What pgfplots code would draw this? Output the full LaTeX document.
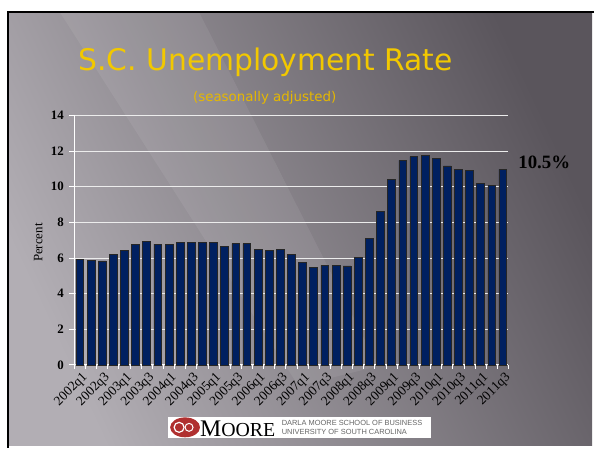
\documentclass[border=0pt]{standalone}
\usepackage{pgfplots}
\pgfplotsset{compat=1.18}
\usepackage{fontspec}
\setmainfont{Liberation Serif}
\newfontfamily\titlefont{DejaVu Sans}
\newfontfamily\logofont{Liberation Sans}
\definecolor{barblue}{RGB}{0,32,96}
\definecolor{bgl}{RGB}{178,174,180}
\definecolor{bgr}{RGB}{90,85,92}
\definecolor{titleyellow}{RGB}{242,200,0}
\definecolor{subyellow}{RGB}{230,184,0}
\definecolor{logored}{RGB}{176,48,48}
\begin{document}
\begin{tikzpicture}[x=1bp,y=1bp]
  % slide frame and background
  \fill[white] (0,0) rectangle (595,448);
  \shade[left color=bgl, right color=bgr, shading angle=115] (8,0) rectangle (595,436);
  \fill[white, opacity=0.07] (60,436) -- (200,436) -- (380,80) -- (300,60) -- cycle;
  \draw[black, line width=2bp] (8,-2) -- (8,436) -- (597,436);

  % title
  \node[font=\titlefont\fontsize{30}{30}\selectfont, text=titleyellow] at (267,385) {S.C. Unemployment Rate};
  \node[font=\titlefont\fontsize{13.5}{13.5}\selectfont, text=subyellow] at (266,350) {(seasonally adjusted)};

  \begin{axis}[
      at={(74.7bp,81.3bp)}, anchor=south west,
      scale only axis,
      width=436.3bp, height=250.7bp,
      xmin=-0.5, xmax=38.5,
      ymin=0, ymax=14,
      ytick={0,2,...,14},
      xtick={0,2,...,38},
      xticklabels={2002q1,2002q3,2003q1,2003q3,2004q1,2004q3,2005q1,2005q3,2006q1,2006q3,
                   2007q1,2007q3,2008q1,2008q3,2009q1,2009q3,2010q1,2010q3,2011q1,2011q3},
      minor xtick={-0.5,0.5,...,38.5},
      major x tick style={draw=none},
      minor x tick style={white, line width=0.8bp},
      minor tick length=4bp,
      y tick style={white, line width=0.8bp},
      major tick length=5bp,
      tick align=outside,
      axis x line*=bottom, axis y line*=left,
      axis line style={white, line width=1bp, -},
      ymajorgrids, grid style={white!85!gray, line width=0.8bp},
      /pgf/number format/assume math mode=true,
      yticklabel style={font=\bfseries\fontsize{13}{13}\selectfont, xshift=-2bp},
      xticklabel style={rotate=45, anchor=east, font=\fontsize{13.5}{13.5}\selectfont, inner sep=1bp, yshift=-8bp, xshift=1bp},
      ylabel={Percent},
      ylabel style={font=\fontsize{13}{13}\selectfont, at={(axis description cs:-0.083,0.49)}, anchor=center},
      clip=false,
    ]
    \addplot[ybar, bar width=0.7, fill=barblue, draw=black!85, line width=0.6bp] coordinates {
      (0,5.94) (1,5.88) (2,5.83) (3,6.22) (4,6.44) (5,6.78) (6,6.94) (7,6.78)
      (8,6.78) (9,6.87) (10,6.89) (11,6.89) (12,6.87) (13,6.65) (14,6.81) (15,6.81)
      (16,6.48) (17,6.44) (18,6.48) (19,6.22) (20,5.77) (21,5.49) (22,5.59) (23,5.59)
      (24,5.55) (25,6.05) (26,7.11) (27,8.60) (28,10.43) (29,11.47) (30,11.69) (31,11.77)
      (32,11.60) (33,11.17) (34,10.97) (35,10.93) (36,10.20) (37,10.09) (38,10.97)
    };
  \end{axis}

  % annotation
  \node[font=\bfseries\fontsize{19}{19}\selectfont] at (547,285) {10.5\%};

  % logo
  \fill[white] (169,8) rectangle (433,29);
  \fill[logored] (186,18.5) ellipse (15 and 10);
  \draw[white, line width=1.2bp] (180,18.5) circle (5);
  \draw[white, line width=1bp] (190,18.5) circle (4);
  \node[anchor=west, inner sep=0pt] at (201,17.5) {\fontsize{24}{24}\selectfont M\fontsize{20}{20}\selectfont OORE};
  \node[font=\logofont\fontsize{7.5}{9}\selectfont, text=black!60, anchor=west, align=left, inner sep=0pt] at (283,18.5) {DARLA MOORE SCHOOL OF BUSINESS\\UNIVERSITY OF SOUTH CAROLINA};
\end{tikzpicture}
\end{document}
